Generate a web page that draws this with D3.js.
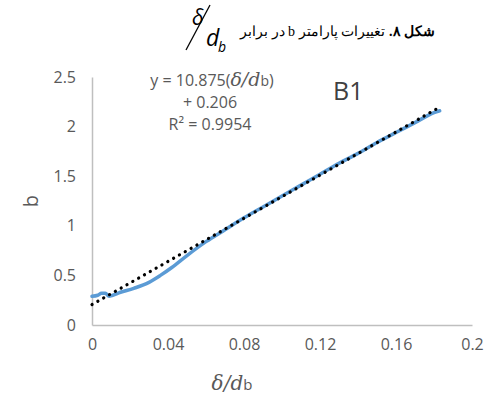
<!DOCTYPE html>
<html>
<head>
<meta charset="utf-8">
<script src="https://cdn.jsdelivr.net/npm/d3@7"></script>
<style>
  body { margin: 0; background: #fff; }
  text { font-family: "Open Sans", "Noto Sans", sans-serif; }
</style>
</head>
<body>
<div id="container"></div>
<script>
let w = 487;
let h = 396;

// blue series (delta/db, b)
let ratioVals = [0, 0.003, 0.005, 0.007, 0.009, 0.015, 0.022, 0.030, 0.036, 0.042, 0.050, 0.060, 0.070, 0.080, 0.090, 0.100, 0.110, 0.120, 0.130, 0.140, 0.150, 0.160, 0.170, 0.180, 0.183];
let bVals = [0.29, 0.30, 0.32, 0.32, 0.29, 0.33, 0.37, 0.43, 0.50, 0.58, 0.70, 0.84, 0.96, 1.08, 1.19, 1.30, 1.41, 1.52, 1.63, 1.73, 1.84, 1.94, 2.04, 2.14, 2.16];

// linear trendline
let slope = 10.875;
let intercept = 0.206;
let trendRange = [0, 0.183];

let xTicks = [0, 0.04, 0.08, 0.12, 0.16, 0.2];
let xTickLabels = ["0", "0.04", "0.08", "0.12", "0.16", "0.2"];
let yTicks = [0, 0.5, 1, 1.5, 2, 2.5];
let yTickLabels = ["0", "0.5", "1", "1.5", "2", "2.5"];

let viz = d3.select("#container")
  .append("svg")
    .attr("width", w)
    .attr("height", h);

let x = d3.scaleLinear().domain([0, 0.2]).range([92, 472]);
let y = d3.scaleLinear().domain([0, 2.5]).range([325, 77]);

// axes
let xAxis = d3.axisBottom(x).tickValues(xTicks).tickSize(0).tickPadding(14)
  .tickFormat((d, i) => xTickLabels[i]);
let yAxis = d3.axisLeft(y).tickValues(yTicks).tickSize(0).tickPadding(16)
  .tickFormat((d, i) => yTickLabels[i]);

let gx = viz.append("g").attr("transform", "translate(0," + y(0) + ")").call(xAxis);
let gy = viz.append("g").attr("transform", "translate(" + x(0) + ",0)").call(yAxis);
[gx, gy].forEach(g => {
  g.select(".domain").attr("stroke", "#bfbfbf").attr("stroke-width", 1.5);
  g.selectAll("text").attr("fill", "#595959").style("font-size", "16px")
    .style("font-family", "'Open Sans', sans-serif");
});
gx.selectAll("text").attr("dy", "0.71em");

// data line
let pts = ratioVals.map((r, i) => [r, bVals[i]]);
let line = d3.line().x(d => x(d[0])).y(d => y(d[1])).curve(d3.curveMonotoneX);
viz.append("path")
  .datum(pts)
  .attr("d", line)
  .attr("fill", "none")
  .attr("stroke", "#5b9bd5")
  .attr("stroke-width", 3.5)
  .attr("stroke-linecap", "round");

// trendline (dotted)
let trendPts = trendRange.map(r => [r, slope * r + intercept]);
viz.append("path")
  .datum(trendPts)
  .attr("d", d3.line().x(d => x(d[0])).y(d => y(d[1])))
  .attr("fill", "none")
  .attr("stroke", "#000")
  .attr("stroke-width", 3.2)
  .attr("stroke-linecap", "round")
  .attr("stroke-dasharray", "0.1 6.6");

// equation label
let eq = viz.append("g").attr("fill", "#595959").style("font-size", "16px");
let l1 = eq.append("text").attr("x", 212).attr("y", 86).attr("text-anchor", "middle");
l1.append("tspan").text("y = 10.875(");
l1.append("tspan").text("δ/d").style("font-family", "'DejaVu Serif', serif").style("font-style", "italic").style("font-size", "19px");
l1.append("tspan").text("b").style("font-size", "14px");
l1.append("tspan").text(")");
eq.append("text").attr("x", 210).attr("y", 108).attr("text-anchor", "middle").text("+ 0.206");
eq.append("text").attr("x", 210).attr("y", 130).attr("text-anchor", "middle").text("R² = 0.9954");

// B1 label
viz.append("text").attr("x", 333).attr("y", 100)
  .attr("fill", "#404040").style("font-size", "25px").text("B1");

// axis titles
viz.append("text")
  .attr("transform", "translate(38,201) rotate(-90)")
  .attr("text-anchor", "middle")
  .attr("fill", "#595959").style("font-size", "20px").text("b");

let xl = viz.append("text").attr("x", 232).attr("y", 390).attr("text-anchor", "middle").attr("fill", "#595959");
xl.append("tspan").text("δ/d").style("font-family", "'DejaVu Serif', serif").style("font-style", "italic").style("font-size", "20px");
xl.append("tspan").text("b").style("font-size", "15px");

// title (right-to-left)
let titleFont = "'Liberation Serif', 'DejaVu Serif', serif";
let t1 = viz.append("text").attr("x", 435).attr("y", 36)
  .attr("direction", "rtl").attr("text-anchor", "start")
  .style("font-family", titleFont).style("font-size", "14px").style("font-weight", "bold")
  .text("شکل ۸.");
let t1w = t1.node().getComputedTextLength();
let t2 = viz.append("text").attr("x", 435 - t1w - 4).attr("y", 36)
  .attr("direction", "rtl").attr("text-anchor", "start")
  .style("font-family", titleFont).style("font-size", "14px")
  .text("تغییرات پارامتر b در برابر");
let titleLeft = 435 - t1w - 4 - t2.node().getComputedTextLength();

// fraction in title, just left of the title text
let fx = titleLeft - 56;
let frac = viz.append("g").style("font-family", "'Liberation Serif', serif").style("font-style", "italic");
frac.append("text").attr("x", fx + 8).attr("y", 25).style("font-size", "21px").text("δ");
frac.append("line").attr("x1", fx + 2).attr("y1", 50).attr("x2", fx + 26).attr("y2", 5)
  .attr("stroke", "#000").attr("stroke-width", 1.3);
frac.append("text").attr("x", fx + 22).attr("y", 46).style("font-size", "23px").text("d");
frac.append("text").attr("x", fx + 34).attr("y", 52).style("font-size", "14px").text("b");
</script>
</body>
</html>
